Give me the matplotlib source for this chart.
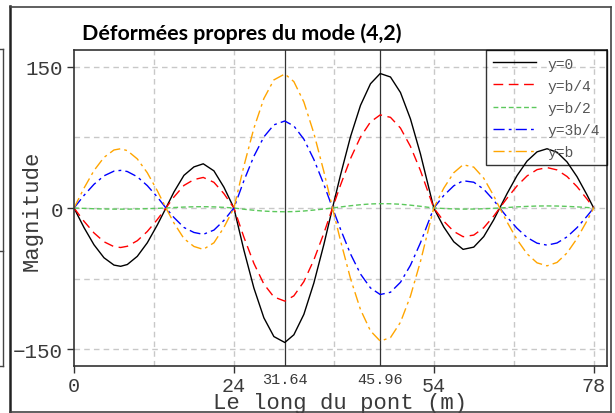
#!/usr/bin/env python3
import matplotlib
matplotlib.use("Agg")
import matplotlib.pyplot as plt
from matplotlib.ticker import FixedLocator, FixedFormatter
from matplotlib.lines import Line2D

#####################################################################
# positions along the bridge (m)
x_m = [0, 1.5, 3, 4.5, 6, 7, 8, 9.5, 11, 12.5, 13.8,
       15, 16.5, 18, 19.4, 21, 22.5, 24,
       25.5, 27, 28.5, 30, 31.64, 33, 34.5, 36, 37.5, 38.8,
       40, 41.5, 43, 44.5, 45.96, 47.5, 49, 50.5, 52, 54,
       55.5, 57, 58.4, 60, 61.5, 63, 63.9,
       65, 66.5, 68, 69.5, 71, 72.5, 74, 75.5, 77, 78]

# y = 0
y_0 = [0, -20.8, -39.1, -52.9, -60.7, -62.0, -60.1, -51.4, -37.0, -18.1, 0,
       17.0, 34.7, 43.7, 47.0, 39.5, 22.1, 0,
       -44.8, -85.1, -116.8, -136.7, -143.0, -134.8, -113.1, -79.8, -38.9, 0,
       35.0, 75.8, 109.1, 132.1, 143.0, 139.3, 122.8, 94.7, 57.5, 0,
       -20.2, -35.9, -44.0, -41.6, -30.4, -12.5, 0,
       15.3, 34.5, 49.9, 59.7, 63.0, 59.3, 49.0, 33.3, 13.9, 0]

# y = b/4
y_b4 = [0, -14.1, -26.5, -35.9, -41.1, -42.0, -40.7, -34.8, -25.0, -12.3, 0,
        11.7, 24.0, 30.2, 32.5, 27.3, 15.3, 0,
        -31.0, -58.9, -80.9, -94.6, -99.0, -93.4, -78.3, -55.2, -26.9, 0,
        24.3, 52.5, 75.5, 91.5, 99.0, 96.4, 85.0, 65.5, 39.8, 0,
        -14.0, -24.9, -30.5, -28.8, -21.0, -8.6, 0,
        10.4, 23.5, 34.1, 40.8, 43.0, 40.5, 33.5, 22.7, 9.5, 0]

# y = b/2
y_b2 = [0, -0.4, -0.8, -1.0, -1.2, -1.2, -1.2, -1.0, -0.7, -0.4, 0,
        0.5, 1.0, 1.3, 1.4, 1.2, 0.7, 0,
        -1.3, -2.4, -3.3, -3.8, -4.0, -3.8, -3.2, -2.2, -1.1, 0,
        1.1, 2.4, 3.5, 4.3, 4.6, 4.5, 4.0, 3.0, 1.8, 0,
        -0.5, -1.0, -1.2, -1.1, -0.8, -0.3, 0,
        0.5, 1.2, 1.7, 2.1, 2.2, 2.1, 1.7, 1.2, 0.5, 0]

# y = 3b/4
y_3b4 = [0, 13.4, 25.2, 34.2, 39.2, 40.0, 38.8, 33.2, 23.8, 11.7, 0,
         -10.1, -20.7, -26.0, -28.0, -23.5, -13.2, 0,
         29.0, 55.0, 75.6, 88.4, 92.5, 87.2, 73.2, 51.6, 25.2, 0,
         -22.5, -48.8, -70.2, -85.0, -92.0, -89.6, -79.0, -60.9, -37.0, 0,
         13.3, 23.6, 29.0, 27.4, 20.0, 8.2, 0,
         -9.6, -21.6, -31.3, -37.4, -39.5, -37.2, -30.7, -20.9, -8.7, 0]

# y = b
y_b = [0, 21.1, 39.8, 53.8, 61.7, 63.0, 61.0, 52.2, 37.5, 18.4, 0,
       -15.9, -32.5, -40.9, -44.0, -37.0, -20.7, 0,
       44.6, 84.8, 116.4, 136.2, 142.5, 134.4, 112.7, 79.5, 38.8, 0,
       -34.7, -75.0, -108.0, -130.7, -141.5, -137.8, -121.5, -93.7, -56.9, 0,
       21.1, 37.5, 46.0, 43.5, 31.7, 13.0, 0,
       -14.9, -33.6, -48.7, -58.3, -61.5, -57.9, -47.8, -32.5, -13.6, 0]

series_labels = ["y=0", "y=b/4", "y=b/2", "y=3b/4", "y=b"]
major_x = [0, 24, 54, 78]
peak_x = [31.64, 45.96]
peak_labels = ["31.64", "45.96"]
major_y = [-150, 0, 150]
grid_x = [12, 24, 39, 54, 66, 78]
grid_y = [-150, -75, 0, 75, 150]

#####################################################################
mono = ["Liberation Mono", "DejaVu Sans Mono"]
txt_col = "#3a3a3a"

fig = plt.figure(figsize=(6.15, 4.14), dpi=100)
W, H = 615.0, 414.0
ax = fig.add_axes([74 / W, 1 - 367 / H, (607 - 74) / W, (367 - 51) / H])

# background grid
for gx in grid_x:
    ax.axvline(gx, color="#c8c8c8", lw=1.0, ls=(0, (4, 3)), zorder=0)
for gy in grid_y:
    ax.axhline(gy, color="#c8c8c8", lw=1.0, ls=(0, (4, 3)), zorder=0)
for px in peak_x:
    ax.axvline(px, color="#333333", lw=0.9, zorder=1)

styles = [
    dict(color="black", ls="-"),
    dict(color="red", ls=(0, (7, 4))),
    dict(color="#5cc85c", ls=(0, (3.5, 2))),
    dict(color="blue", ls=(0, (8, 3, 2, 3))),
    dict(color="#ffa500", ls=(0, (8, 3, 2, 3))),
]
all_y = [y_0, y_b4, y_b2, y_3b4, y_b]
for yy, lab, st in zip(all_y, series_labels, styles):
    ax.plot(x_m, yy, lw=1.0, label=lab, zorder=2, **st)

ax.set_xlim(0, 80)
ax.set_ylim(-168, 168)

ax.xaxis.set_major_locator(FixedLocator(major_x))
ax.xaxis.set_minor_locator(FixedLocator(peak_x))
ax.xaxis.set_minor_formatter(FixedFormatter(peak_labels))
ax.yaxis.set_major_locator(FixedLocator(major_y))
ax.yaxis.set_minor_locator(FixedLocator([]))

ax.tick_params(axis="x", which="major", length=5, width=1, color="#333333",
               pad=2, labelsize=14.5, labelcolor=txt_col)
ax.tick_params(axis="x", which="minor", length=0, pad=4, labelsize=11,
               labelcolor=txt_col)
ax.tick_params(axis="y", which="major", length=5, width=1, color="#333333",
               pad=3, labelsize=15, labelcolor=txt_col)
for lab in ax.get_xticklabels(which="both") + ax.get_yticklabels():
    lab.set_family(mono)

for sp in ax.spines.values():
    sp.set_color("#333333")
    sp.set_linewidth(1.2)

ax.set_xlabel("Le long du pont (m)", fontsize=16, family=mono, color=txt_col)
ax.xaxis.set_label_coords(0.5, (367 - 409.5) / 316)
ax.xaxis.label.set_va("baseline")
ax.set_ylabel("Magnitude", fontsize=16, family=mono, color=txt_col)
ax.yaxis.set_label_coords((32 - 74) / 533, (367 - 211) / 316)
ax.yaxis.label.set_va("center")

leg = ax.legend(loc="upper right", borderaxespad=0,
                prop={"family": mono, "size": 10.5}, handlelength=3.0,
                handletextpad=0.8, labelspacing=0.55, borderpad=0.45,
                fancybox=False, frameon=True, labelcolor="#555555")
leg.get_frame().set_facecolor("none")
leg.get_frame().set_edgecolor("black")
leg.get_frame().set_linewidth(1.0)

fig.text(82 / W, 1 - 39.5 / H, "Déformées propres du mode (4,2)",
         fontsize=15.4, fontweight="bold", family=["Lato", "DejaVu Sans"],
         ha="left", va="baseline", color="black")

# window frame around the chart
frame_col = "#444444"
fig.add_artist(Line2D([9.5 / W, 9.5 / W], [0, 1 - 7 / H], color="#222222", lw=1.8))
fig.add_artist(Line2D([9.5 / W, 611 / W], [1 - 7.5 / H, 1 - 7.5 / H], color=frame_col, lw=1.2))
fig.add_artist(Line2D([611 / W, 611 / W], [1 - 7.5 / H, 1 - 413 / H], color=frame_col, lw=1.2))
fig.add_artist(Line2D([9.5 / W, 611 / W], [1 - 413 / H, 1 - 413 / H], color=frame_col, lw=1.2))
fig.add_artist(Line2D([3 / W, 3 / W], [1 - 50 / H, 1 - 367 / H], color=frame_col, lw=1.0))
fig.add_artist(Line2D([0, 3 / W], [1 - 50 / H, 1 - 50 / H], color=frame_col, lw=1.0))
fig.add_artist(Line2D([0, 3 / W], [1 - 252 / H, 1 - 252 / H], color=frame_col, lw=1.0))
fig.add_artist(Line2D([0, 3 / W], [1 - 367 / H, 1 - 367 / H], color=frame_col, lw=1.0))

fig.savefig("out.png", dpi=100)
